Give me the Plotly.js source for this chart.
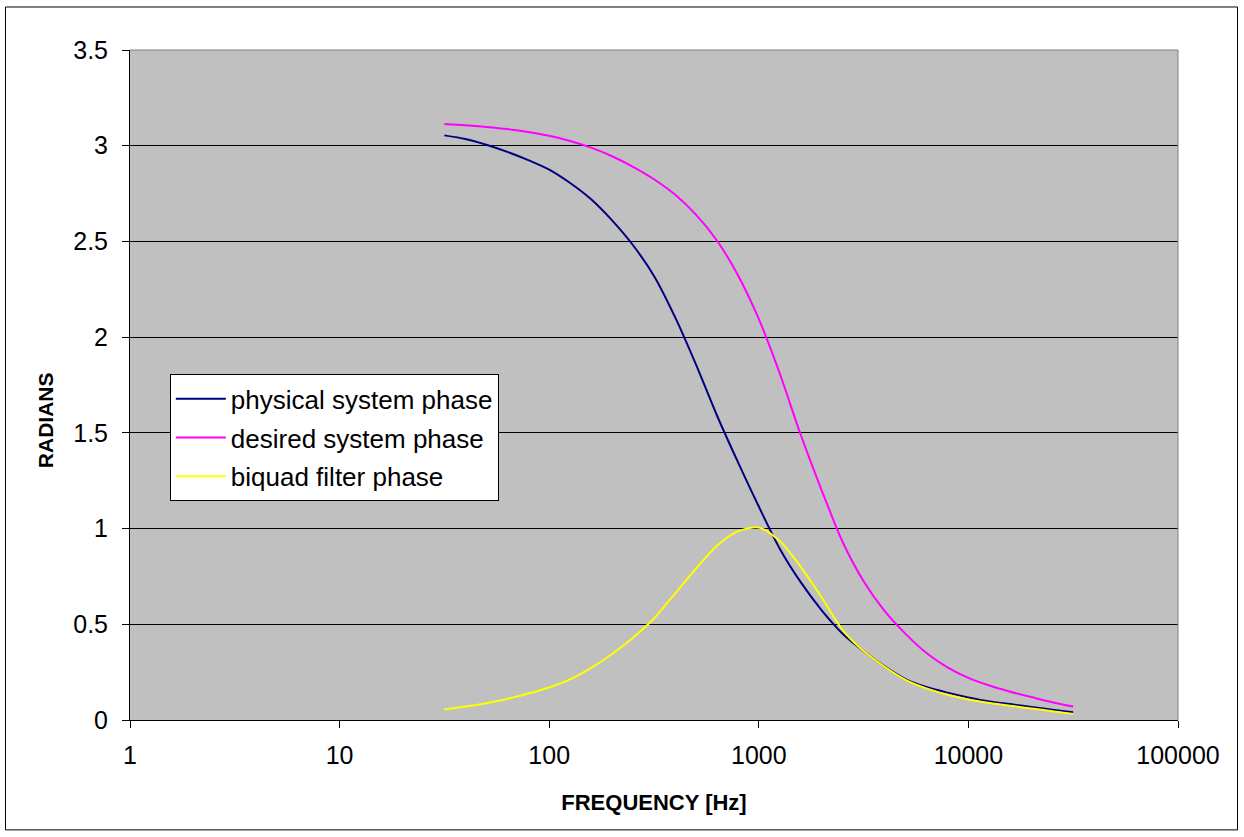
<!DOCTYPE html>
<html>
<head>
<meta charset="utf-8">
<script src="https://cdn.plot.ly/plotly-3.0.1.min.js"></script>
<style>
  html, body { margin: 0; padding: 0; background: #ffffff; }
  #chart { width: 1244px; height: 837px; }
</style>
</head>
<body>
<div id="chart"></div>
<script>
// Frequency points (Hz), ten per decade from ~32 Hz to ~32 kHz
const frequencyHz = [
  31.6, 39.8, 50.1, 63.1, 79.4, 100, 125.9, 158.5, 199.5, 251.2,
  316.2, 398.1, 501.2, 631.0, 794.3, 1000, 1258.9, 1584.9, 1995.3, 2511.9,
  3162.3, 3981.1, 5011.9, 6309.6, 7943.3, 10000, 12589, 15849, 19953, 25119, 31623
];

// Phase responses in radians
const physicalPhase = [
  3.054, 3.035, 3.005, 2.968, 2.925, 2.875, 2.805, 2.720, 2.610, 2.480,
  2.320, 2.106, 1.858, 1.592, 1.348, 1.115, 0.895, 0.720, 0.573, 0.451,
  0.360, 0.280, 0.214, 0.172, 0.143, 0.118, 0.097, 0.083, 0.068, 0.054, 0.040
];
const desiredPhase = [
  3.114, 3.107, 3.098, 3.087, 3.072, 3.052, 3.025, 2.990, 2.945, 2.890,
  2.825, 2.745, 2.640, 2.505, 2.325, 2.095, 1.810, 1.490, 1.200, 0.930,
  0.725, 0.570, 0.450, 0.350, 0.275, 0.220, 0.180, 0.148, 0.120, 0.093, 0.070
];
const biquadPhase = [
  0.055, 0.070, 0.088, 0.110, 0.138, 0.170, 0.212, 0.272, 0.345, 0.430,
  0.530, 0.660, 0.790, 0.910, 0.985, 1.005, 0.935, 0.800, 0.640, 0.470,
  0.360, 0.278, 0.210, 0.165, 0.132, 0.107, 0.089, 0.074, 0.060, 0.046, 0.032
];

const seriesNames = ['physical system phase', 'desired system phase', 'biquad filter phase'];
const seriesColors = ['#000080', '#FF00FF', '#FFFF00'];
const seriesValues = [physicalPhase, desiredPhase, biquadPhase];

const xTickVals = [1, 10, 100, 1000, 10000, 100000];
const xTickText = ['1', '10', '100', '1000', '10000', '100000'];

const FONT = 'Arial, "Liberation Sans", Helvetica, sans-serif';

const traces = seriesValues.map((vals, i) => ({
  type: 'scatter',
  mode: 'lines',
  name: seriesNames[i],
  legendgroup: 'g' + i,
  x: frequencyHz,
  y: vals,
  line: { color: seriesColors[i], width: 2, shape: 'spline', smoothing: 0.8 },
  hoverinfo: 'x+y+name'
}));

const layout = {
  width: 1244,
  height: 837,
  margin: { l: 130, r: 66, t: 50, b: 117 },
  paper_bgcolor: '#ffffff',
  plot_bgcolor: '#C0C0C0',
  font: { family: FONT, size: 25, color: '#000000' },
  showlegend: true,
  legend: {
    x: 0.038, y: 0.516, xanchor: 'left', yanchor: 'top',
    bgcolor: '#ffffff', bordercolor: '#000000', borderwidth: 1,
    font: { family: FONT, size: 26, color: '#000000' },
    traceorder: 'grouped', tracegroupgap: 2,
    itemwidth: 50
  },
  xaxis: {
    type: 'log',
    range: [0, 5],
    tickvals: xTickVals,
    ticktext: xTickText,
    ticks: 'outside', ticklen: 7, tickcolor: '#000000', tickwidth: 1,
    ticklabelstandoff: 6,
    showgrid: false, zeroline: false,
    showline: true, linecolor: '#000000', linewidth: 1,
    tickfont: { family: FONT, size: 25 },
    title: { text: '<b>FREQUENCY [Hz]</b>', font: { family: FONT, size: 22 }, standoff: 26 },
    automargin: false
  },
  yaxis: {
    range: [0, 3.5],
    dtick: 0.5,
    tick0: 0,
    ticks: 'outside', ticklen: 7, tickcolor: '#000000', tickwidth: 1,
    ticklabelstandoff: 9,
    showgrid: true, gridcolor: '#000000', gridwidth: 1,
    zeroline: false,
    showline: true, linecolor: '#000000', linewidth: 1,
    tickfont: { family: FONT, size: 25 },
    automargin: false
  },
  annotations: [
    // y-axis title, sitting slightly below the vertical centre as in the original layout
    { text: '<b>RADIANS</b>', textangle: -90, showarrow: false,
      xref: 'paper', yref: 'paper', x: -0.0805, y: 0.447,
      xanchor: 'center', yanchor: 'middle',
      font: { family: FONT, size: 21, color: '#000000' } }
  ],
  shapes: [
    // grey plot-area frame on top and right
    { type: 'line', xref: 'paper', yref: 'paper', x0: 0, x1: 1, y0: 1, y1: 1,
      line: { color: '#808080', width: 1 } },
    { type: 'line', xref: 'paper', yref: 'paper', x0: 1, x1: 1, y0: 0, y1: 1,
      line: { color: '#808080', width: 1 } },
    // outer chart frame
    { type: 'rect', xref: 'paper', yref: 'paper',
      x0: -0.1188, x1: 1.0568, y0: -0.164, y1: 1.0642,
      line: { color: '#000000', width: 1 }, fillcolor: 'rgba(0,0,0,0)', layer: 'below' }
  ]
};

Plotly.newPlot('chart', traces, layout, { displayModeBar: false, staticPlot: true });
</script>
</body>
</html>
